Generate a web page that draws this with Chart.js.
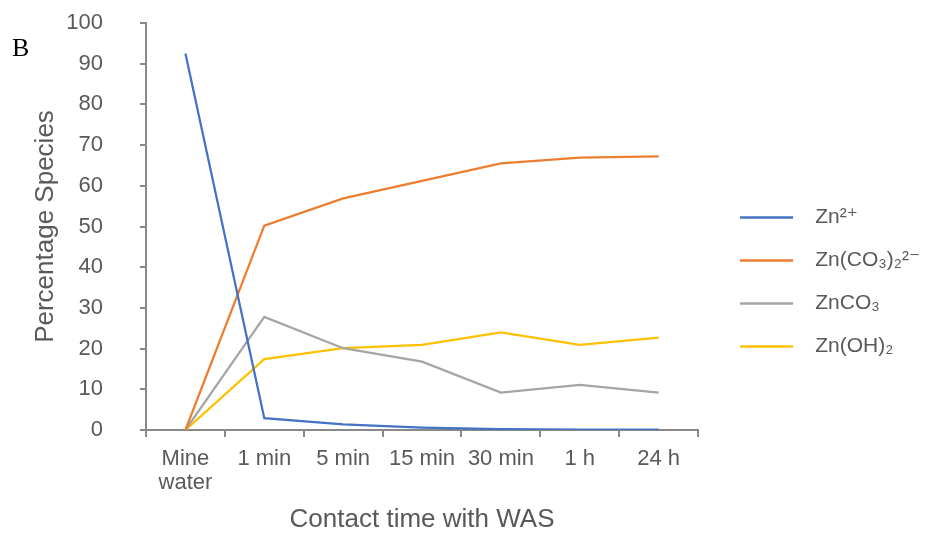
<!DOCTYPE html>
<html>
<head>
<meta charset="utf-8">
<script src="https://cdn.jsdelivr.net/npm/chart.js@4.4.1/dist/chart.umd.min.js"></script>
<style>
  body { margin: 0; background: #fff; }
  #wrap { width: 929px; height: 540px; position: relative; }
</style>
</head>
<body>
<div id="wrap"><canvas id="speciesChart"></canvas></div>
<script>
// contact time categories
var times = [["Mine", "water"], "1 min", "5 min", "15 min", "30 min", "1 h", "24 h"];

// percentage of each zinc species
var zn2 = [92.5, 2.9, 1.4, 0.6, 0.2, 0.1, 0.1];
var znCO3_2 = [0, 50.2, 56.9, 61.2, 65.5, 66.9, 67.2];
var znCO3 = [0, 27.8, 20.1, 16.8, 9.2, 11.1, 9.2];
var znOH2 = [0, 17.4, 20.1, 20.9, 24.0, 20.9, 22.7];

var axisGray = '#898989';
var textGray = '#595959';
Chart.defaults.font.family = '"Liberation Sans", Arial, "DejaVu Sans", sans-serif';
Chart.defaults.color = textGray;

// panel letter in the corner
var panelLetter = {
  id: 'panelLetter',
  afterDraw: function (chart) {
    var c = chart.ctx;
    c.save();
    c.font = '26px "Liberation Serif", "DejaVu Serif", serif';
    c.fillStyle = '#000';
    c.textBaseline = 'alphabetic';
    c.fillText('B', 12, 56);
    c.restore();
  }
};

// nudge legend away from the plot, lower down
var legendShift = {
  id: 'legendShift',
  afterLayout: function (chart) {
    var lg = chart.legend;
    lg.left += 20; lg.right += 20;
    lg.top += 162; lg.bottom += 162;
  }
};

function line(label, data, color) {
  return {
    label: label,
    data: data,
    borderColor: color,
    backgroundColor: color,
    borderWidth: 2.25,
    pointRadius: 0,
    tension: 0,
    fill: false
  };
}

new Chart(document.getElementById('speciesChart'), {
  type: 'line',
  data: {
    labels: times,
    datasets: [
      line('Zn²⁺', zn2, '#4472C4'),
      line('Zn(CO₃)₂²⁻', znCO3_2, '#ED7D31'),
      line('ZnCO₃', znCO3, '#A5A5A5'),
      line('Zn(OH)₂', znOH2, '#FFC000')
    ]
  },
  options: {
    responsive: true,
    maintainAspectRatio: false,
    animation: false,
    layout: { padding: { left: 10, top: 23, right: 19, bottom: 0 } },
    plugins: {
      tooltip: { enabled: false },
      legend: {
        position: 'right',
        align: 'start',
        labels: {
          boxWidth: 53,
          boxHeight: 2.5,
          padding: 22,
          color: textGray,
          font: { size: 21 },
          generateLabels: function (chart) {
            var items = Chart.defaults.plugins.legend.labels.generateLabels(chart);
            items.forEach(function (it) {
              it.text = '  ' + it.text;
              it.lineWidth = 0;
              it.fillStyle = it.strokeStyle;
            });
            return items;
          }
        }
      }
    },
    scales: {
      x: {
        offset: true,
        grid: { offset: true, drawOnChartArea: false, tickLength: 7, color: axisGray, lineWidth: 2 },
        border: { color: axisGray, width: 2 },
        ticks: { padding: 10, maxRotation: 0, font: { size: 22, lineHeight: 1.1 } },
        title: {
          display: true,
          text: 'Contact time with WAS',
          font: { size: 26 },
          padding: { top: 9, bottom: 4.4 }
        },
        afterFit: function (s) { s.height = 110; }
      },
      y: {
        min: 0,
        max: 100,
        grid: { drawOnChartArea: false, tickLength: 6, color: axisGray, lineWidth: 2 },
        border: { color: axisGray, width: 2 },
        ticks: { stepSize: 10, padding: 37, font: { size: 22 } },
        title: {
          display: true,
          text: 'Percentage Species',
          font: { size: 26 },
          padding: { top: 20.4, bottom: 4.7 }
        },
        afterFit: function (s) { s.width = 136; s.paddingTop = 0; s.paddingBottom = 0; }
      }
    }
  },
  plugins: [panelLetter, legendShift]
});
</script>
</body>
</html>
